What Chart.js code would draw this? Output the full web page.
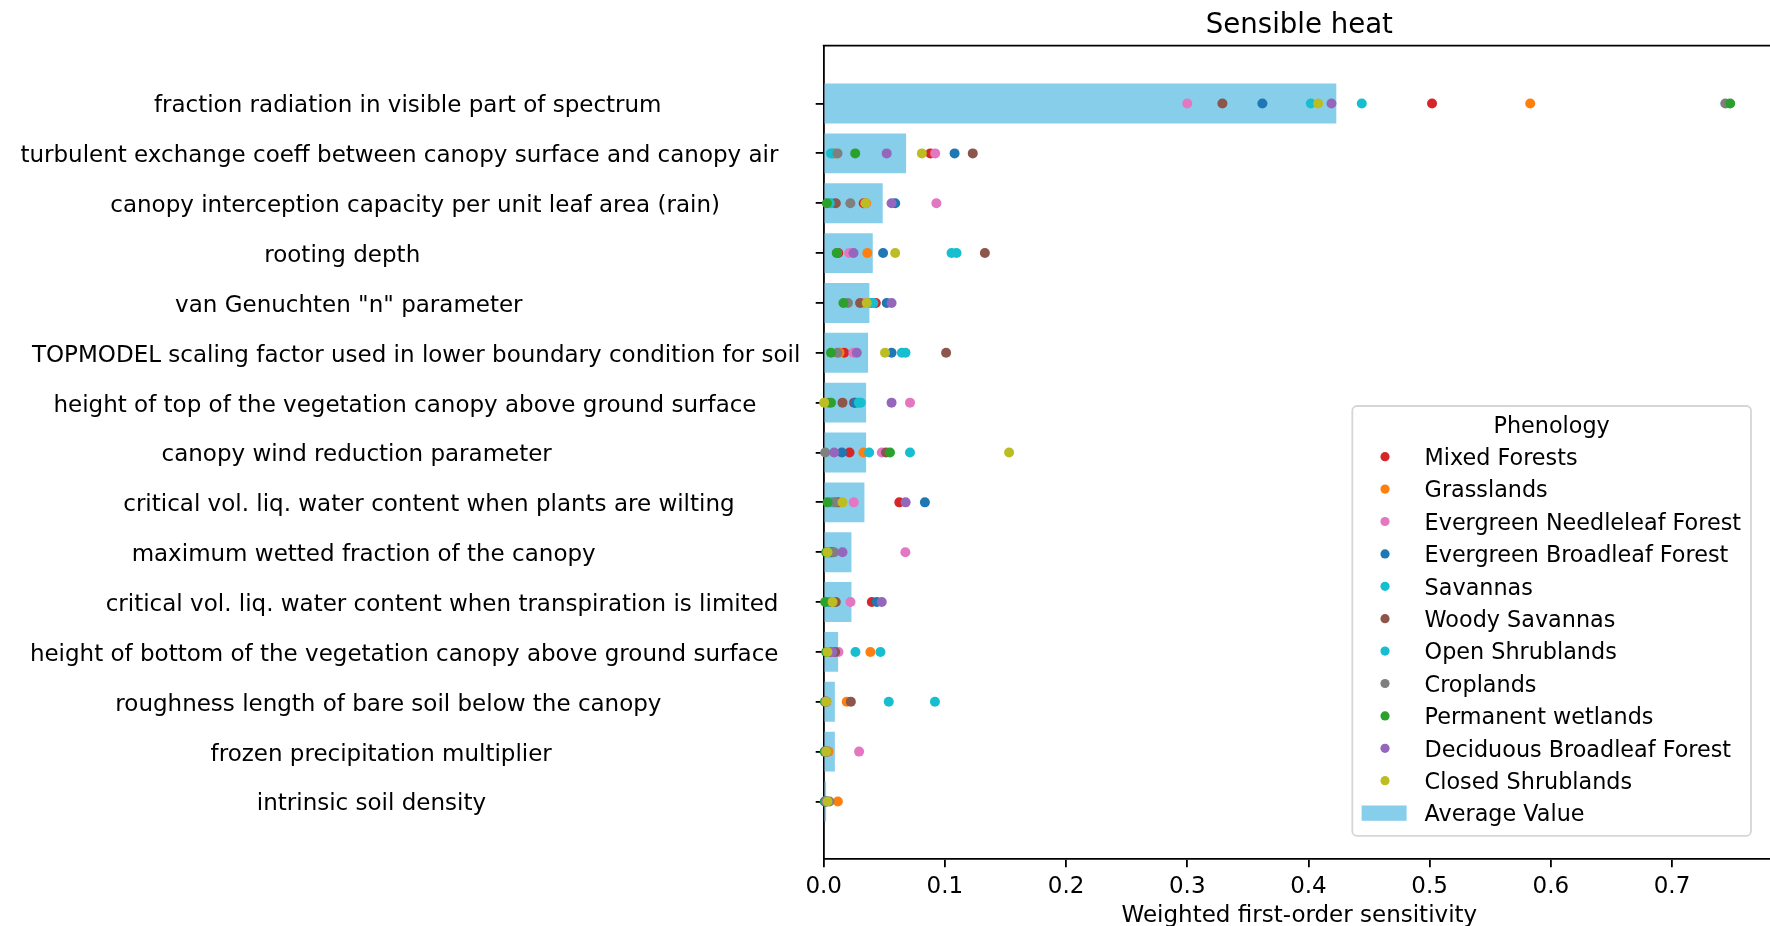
<!DOCTYPE html>
<html>
<head>
<meta charset="utf-8">
<script src="https://cdn.jsdelivr.net/npm/chart.js@4.4.1/dist/chart.umd.min.js"></script>
<style>
  html, body { margin: 0; padding: 0; background: #fff; overflow: hidden; width: 1770px; height: 926px; }
  canvas { display: block; }
</style>
</head>
<body>
<canvas id="chart" width="1780" height="940" style="width:1780px;height:940px"></canvas>
<script>
// Model parameters, top to bottom
const parameters = [
  "fraction radiation in visible part of spectrum",
  "turbulent exchange coeff between canopy surface and canopy air",
  "canopy interception capacity per unit leaf area (rain)",
  "rooting depth",
  "van Genuchten \"n\" parameter",
  "TOPMODEL scaling factor used in lower boundary condition for soil",
  "height of top of the vegetation canopy above ground surface",
  "canopy wind reduction parameter",
  "critical vol. liq. water content when plants are wilting",
  "maximum wetted fraction of the canopy",
  "critical vol. liq. water content when transpiration is limited",
  "height of bottom of the vegetation canopy above ground surface",
  "roughness length of bare soil below the canopy",
  "frozen precipitation multiplier",
  "intrinsic soil density"
];

// Weighted average sensitivity per parameter (bars)
const averageValue = [0.423, 0.068, 0.0487, 0.0405, 0.0377, 0.0366, 0.035, 0.035, 0.0336, 0.0229, 0.0229, 0.0119, 0.0092, 0.0092, 0.002];

// Sensitivity per land-cover class (points), same parameter order
const mixedForests       = [0.502, 0.088, 0.033, 0.012, 0.043, 0.0169, 0.0251, 0.0213, 0.0624, 0.005, 0.0397, 0.005, 0.002, 0.002, 0.002];
const grasslands         = [0.583, 0.009, 0.035, 0.036, 0.038, 0.013, 0.0265, 0.0328, 0.010, 0.004, 0.005, 0.0385, 0.019, 0.004, 0.0117];
const evergreenNeedleleaf = [0.300, 0.092, 0.093, 0.021, 0.033, 0.0245, 0.0712, 0.0479, 0.0248, 0.0674, 0.0221, 0.0122, 0.002, 0.0292, 0.002];
const evergreenBroadleaf = [0.362, 0.108, 0.059, 0.049, 0.052, 0.056, 0.026, 0.015, 0.0835, 0.006, 0.0438, 0.004, 0.002, 0.001, 0.001];
const savannas           = [0.402, 0.0076, 0.0067, 0.1055, 0.041, 0.0645, 0.0306, 0.0375, 0.006, 0.003, 0.004, 0.0262, 0.0537, 0.002, 0.001];
const woodySavannas      = [0.329, 0.123, 0.010, 0.133, 0.030, 0.101, 0.0155, 0.0514, 0.012, 0.007, 0.010, 0.0095, 0.0224, 0.002, 0.002];
const openShrublands     = [0.444, 0.006, 0.005, 0.1096, 0.039, 0.0675, 0.029, 0.0712, 0.008, 0.004, 0.003, 0.0468, 0.0918, 0.001, 0.002];
const croplands          = [0.744, 0.0114, 0.022, 0.011, 0.020, 0.0114, 0.004, 0.0012, 0.0095, 0.0086, 0.006, 0.006, 0.002, 0.002, 0.0048];
const permanentWetlands  = [0.748, 0.026, 0.0026, 0.0108, 0.0163, 0.006, 0.006, 0.0547, 0.0032, 0.002, 0.0012, 0.002, 0.001, 0.001, 0.001];
const deciduousBroadleaf = [0.419, 0.052, 0.056, 0.0246, 0.056, 0.0273, 0.056, 0.0086, 0.0676, 0.0155, 0.0479, 0.007, 0.002, 0.002, 0.002];
const closedShrublands   = [0.408, 0.081, 0.0344, 0.059, 0.0355, 0.0506, 0.0004, 0.153, 0.0155, 0.0031, 0.0073, 0.0031, 0.0021, 0.0021, 0.0031];

const phenologyNames = [
  "Mixed Forests", "Grasslands", "Evergreen Needleleaf Forest", "Evergreen Broadleaf Forest",
  "Savannas", "Woody Savannas", "Open Shrublands", "Croplands", "Permanent wetlands",
  "Deciduous Broadleaf Forest", "Closed Shrublands"
];
const phenologySeries = [
  mixedForests, grasslands, evergreenNeedleleaf, evergreenBroadleaf, savannas, woodySavannas,
  openShrublands, croplands, permanentWetlands, deciduousBroadleaf, closedShrublands
];

const xTicks = [0.0, 0.1, 0.2, 0.3, 0.4, 0.5, 0.6, 0.7];

// Styling
const phenologyColors = ["#d62728", "#ff7f0e", "#e377c2", "#1f77b4", "#17becf", "#8c564b",
                         "#17becf", "#7f7f7f", "#2ca02c", "#9467bd", "#bcbd22"];
const barColor = "#87ceeb";
const FONT = '"DejaVu Sans", sans-serif';
const LABEL_CHARS = 66;            // labels are fixed-width fields, right aligned
const chartTitle = "Sensible heat";
const legendTitle = "Phenology";

const rowLabels = parameters.map(s => s.padEnd(LABEL_CHARS, " "));

const datasets = phenologyNames.map((name, k) => ({
  type: "scatter",
  label: name,
  data: phenologySeries[k].map((v, i) => ({ x: v, y: i })),
  backgroundColor: phenologyColors[k],
  borderWidth: 0,
  pointRadius: 5,
  pointHoverRadius: 5,
  clip: false,
  order: phenologyNames.length - k
}));
datasets.push({
  type: "bar",
  label: "Average Value",
  indexAxis: "y",
  data: averageValue.map((v, i) => ({ x: v, y: i })),
  backgroundColor: barColor,
  borderWidth: 0,
  barPercentage: 0.8,
  categoryPercentage: 1.0,
  order: 100
});

// Title, top spine and legend box
const decorations = {
  id: "decorations",
  afterDraw(chart) {
    const { ctx, chartArea: a } = chart;
    ctx.save();
    ctx.strokeStyle = "#000";
    ctx.lineWidth = 1.8;
    ctx.beginPath();
    ctx.moveTo(a.left - 0.9, a.top);
    ctx.lineTo(a.right, a.top);
    ctx.stroke();

    ctx.fillStyle = "#000";
    ctx.font = `27.6px ${FONT}`;
    ctx.textAlign = "center";
    ctx.textBaseline = "alphabetic";
    ctx.fillText(chartTitle, (a.left + a.right) / 2, a.top - 12.4);

    // legend in lower right of the axes
    const fs = 22.3;
    ctx.font = `${fs}px ${FONT}`;
    const names = chart.data.datasets.map(d => d.label);
    const textW = Math.max(...names.map(n => ctx.measureText(n).width));
    const textOffset = 72.3, firstRow = 50.7, rowStep = 32.4, textShift = 2.5;
    const boxW = textOffset + textW + 10;
    const boxH = firstRow + (names.length - 1) * rowStep + 22.7;
    const right = a.right - 24, bottom = a.bottom - 23.5;
    const left = right - boxW, top = bottom - boxH;
    const r = 4.6;
    ctx.beginPath();
    ctx.moveTo(left + r, top);
    ctx.lineTo(right - r, top); ctx.arcTo(right, top, right, top + r, r);
    ctx.lineTo(right, bottom - r); ctx.arcTo(right, bottom, right - r, bottom, r);
    ctx.lineTo(left + r, bottom); ctx.arcTo(left, bottom, left, bottom - r, r);
    ctx.lineTo(left, top + r); ctx.arcTo(left, top, left + r, top, r);
    ctx.closePath();
    ctx.fillStyle = "rgba(255,255,255,0.8)";
    ctx.fill();
    ctx.strokeStyle = "rgba(204,204,204,0.8)";
    ctx.lineWidth = 1.8;
    ctx.stroke();

    ctx.fillStyle = "#000";
    ctx.textAlign = "center";
    ctx.textBaseline = "middle";
    ctx.fillText(legendTitle, left + boxW / 2, top + 18.3 + textShift);

    chart.data.datasets.forEach((d, k) => {
      const y = top + firstRow + k * rowStep;
      ctx.fillStyle = d.backgroundColor;
      if (d.type === "bar") {
        ctx.fillRect(left + 9.3, y - 7.6, 45, 15.3);
      } else {
        ctx.beginPath();
        ctx.arc(left + 32.7, y, 4.6, 0, Math.PI * 2);
        ctx.fill();
      }
      ctx.fillStyle = "#000";
      ctx.textAlign = "left";
      ctx.fillText(d.label, left + textOffset, y + textShift);
    });
    ctx.restore();
  }
};

new Chart(document.getElementById("chart"), {
  type: "bar",
  data: { datasets },
  plugins: [decorations],
  options: {
    indexAxis: "y",
    responsive: false,
    animation: false,
    events: [],
    devicePixelRatio: 1,
    layout: { padding: { top: 45.7, left: 0, right: 2.5, bottom: 0 } },
    plugins: { legend: { display: false }, title: { display: false }, tooltip: { enabled: false } },
    scales: {
      x: {
        type: "linear",
        position: "bottom",
        min: 0,
        max: 0.785,
        afterBuildTicks: s => { s.ticks = xTicks.map(v => ({ value: v })); },
        afterFit: s => { s.height = 80.7; },
        ticks: {
          callback: v => v.toFixed(1),
          font: { family: FONT, size: 23 },
          color: "#000",
          padding: 6,
          maxRotation: 0,
          autoSkip: false
        },
        grid: { display: true, drawOnChartArea: false, drawTicks: true, tickLength: 8, color: "#000", lineWidth: 1.8 },
        border: { display: true, color: "#000", width: 1.8 },
        title: {
          display: true,
          text: "Weighted first-order sensitivity",
          font: { family: FONT, size: 23 },
          color: "#000",
          padding: { top: 0, bottom: 10 }
        }
      },
      y: {
        type: "linear",
        position: "left",
        reverse: true,
        min: -1.16,
        max: 15.16,
        offset: false,
        afterBuildTicks: s => { s.ticks = parameters.map((_, i) => ({ value: i })); },
        afterFit: s => { s.width = 823.7; },
        ticks: {
          callback: v => rowLabels[v],
          font: { family: FONT, size: 23 },
          color: "#000",
          padding: 8,
          labelOffset: 3,
          autoSkip: false
        },
        grid: { display: true, offset: false, drawOnChartArea: false, drawTicks: true, tickLength: 8, color: "#000", lineWidth: 1.8 },
        border: { display: true, color: "#000", width: 1.8 }
      }
    }
  }
});
</script>
</body>
</html>
